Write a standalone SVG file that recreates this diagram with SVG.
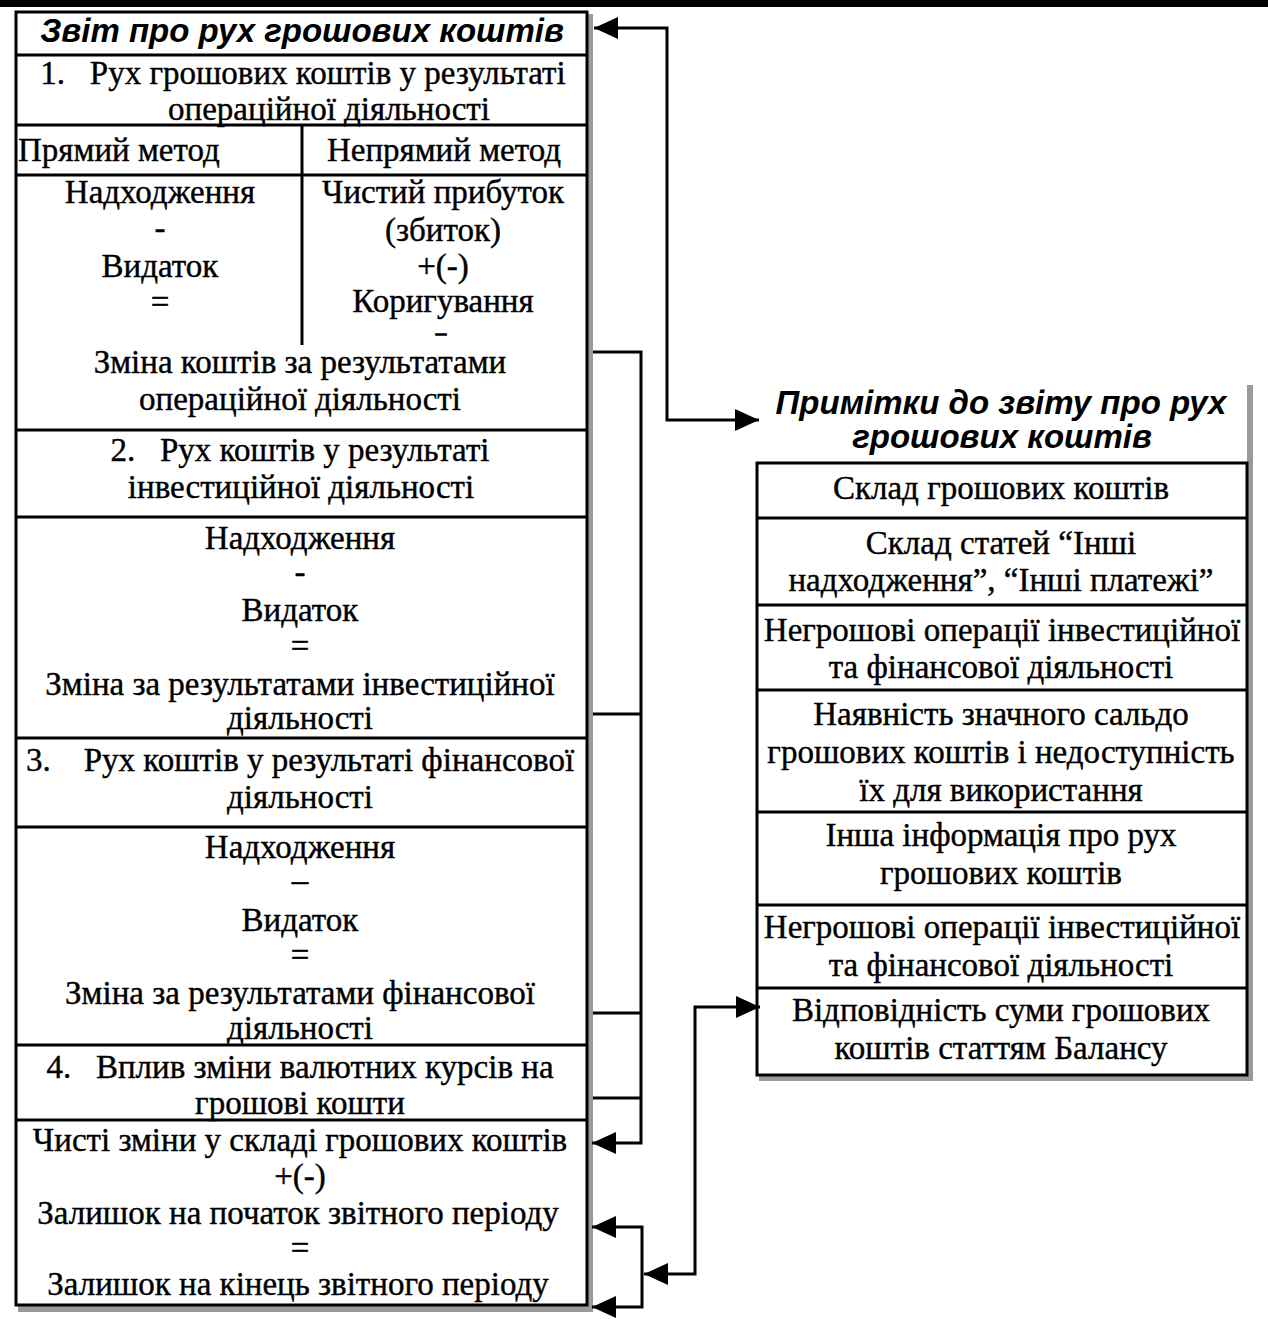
<svg xmlns="http://www.w3.org/2000/svg" width="1268" height="1331" viewBox="0 0 1268 1331">
<style>
.t{font-family:"Liberation Serif","Times New Roman",serif;font-size:33px;fill:#000;text-anchor:middle;white-space:pre;stroke:#000;stroke-width:0.4}
.l{text-anchor:start}
.d{font-size:20px;stroke-width:1.5}
.h{font-family:"Liberation Sans",Arial,sans-serif;font-size:33px;font-weight:bold;font-style:italic;fill:#000;text-anchor:middle}
.b{fill:none;stroke:#000;stroke-width:3}
.sh{fill:#9a9a9a}
.c{fill:none;stroke:#000;stroke-width:3}
</style>
<defs>
<marker id="ah" viewBox="0 0 24 22" refX="24" refY="11" markerWidth="24" markerHeight="22" markerUnits="userSpaceOnUse" orient="auto-start-reverse">
<path d="M0,0 L24,11 L0,22 Z" fill="#000"/>
</marker>
</defs>
<rect x="0" y="0" width="1268" height="7" fill="#000"/>

<g id="statement">
<rect class="sh" x="587" y="14" width="6" height="1298"/>
<rect class="sh" x="18" y="1305" width="575" height="7"/>
<rect class="b" x="16" y="12" width="571" height="1293"/>
<line class="b" x1="16" y1="55" x2="587" y2="55"/>
<line class="b" x1="16" y1="125" x2="587" y2="125"/>
<line class="b" x1="16" y1="175" x2="587" y2="175"/>
<line class="b" x1="302" y1="125" x2="302" y2="345"/>
<line class="b" x1="16" y1="430" x2="587" y2="430"/>
<line class="b" x1="16" y1="517" x2="587" y2="517"/>
<line class="b" x1="16" y1="738" x2="587" y2="738"/>
<line class="b" x1="16" y1="827" x2="587" y2="827"/>
<line class="b" x1="16" y1="1045" x2="587" y2="1045"/>
<line class="b" x1="16" y1="1120" x2="587" y2="1120"/>
<text class="h" x="302" y="42">Звіт про рух грошових коштів</text>
<text class="t" x="303" y="84">1.   Рух грошових коштів у результаті</text>
<text class="t" x="329" y="120">операційної діяльності</text>
<text class="t l" x="18" y="161">Прямий метод</text>
<text class="t" x="444" y="161">Непрямий метод</text>
<text class="t" x="160" y="203">Надходження</text>
<text class="t" x="160" y="239">-</text>
<text class="t" x="160" y="277">Видаток</text>
<text class="t" x="160" y="313">=</text>
<text class="t" x="443" y="203">Чистий прибуток</text>
<text class="t" x="443" y="241">(збиток)</text>
<text class="t" x="443" y="277">+(-)</text>
<text class="t" x="443" y="312">Коригування</text>
<text class="t d" x="441" y="340">–</text>
<text class="t" x="300" y="373">Зміна коштів за результатами</text>
<text class="t" x="300" y="410">операційної діяльності</text>
<text class="t" x="300" y="461">2.   Рух коштів у результаті</text>
<text class="t" x="301" y="498">інвестиційної діяльності</text>
<text class="t" x="300" y="549">Надходження</text>
<text class="t" x="300" y="583">-</text>
<text class="t" x="300" y="621">Видаток</text>
<text class="t" x="300" y="657">=</text>
<text class="t" x="300" y="695">Зміна за результатами інвестиційної</text>
<text class="t" x="300" y="729">діяльності</text>
<text class="t" x="300" y="771">3.    Рух коштів у результаті фінансової</text>
<text class="t" x="300" y="808">діяльності</text>
<text class="t" x="300" y="858">Надходження</text>
<text class="t" x="300" y="891">–</text>
<text class="t" x="300" y="931">Видаток</text>
<text class="t" x="300" y="966">=</text>
<text class="t" x="300" y="1004">Зміна за результатами фінансової</text>
<text class="t" x="300" y="1039">діяльності</text>
<text class="t" x="300" y="1078">4.   Вплив зміни валютних курсів на</text>
<text class="t" x="300" y="1114">грошові кошти</text>
<text class="t" x="300" y="1151">Чисті зміни у складі грошових коштів</text>
<text class="t" x="300" y="1187">+(-)</text>
<text class="t" x="298" y="1224">Залишок на початок звітного періоду</text>
<text class="t" x="300" y="1259">=</text>
<text class="t" x="298" y="1295">Залишок на кінець звітного періоду</text>
</g>

<g id="notes">
<rect class="sh" x="1247" y="385" width="6" height="696"/>
<rect class="sh" x="759" y="1075" width="494" height="6"/>
<rect class="b" x="757" y="463" width="490" height="612"/>
<line class="b" x1="757" y1="518" x2="1247" y2="518"/>
<line class="b" x1="757" y1="605" x2="1247" y2="605"/>
<line class="b" x1="757" y1="690" x2="1247" y2="690"/>
<line class="b" x1="757" y1="812" x2="1247" y2="812"/>
<line class="b" x1="757" y1="905" x2="1247" y2="905"/>
<line class="b" x1="757" y1="988" x2="1247" y2="988"/>
<text class="h" x="1001" y="414">Примітки до звіту про рух</text>
<text class="h" x="1002" y="448">грошових коштів</text>
<text class="t" x="1001" y="499">Склад грошових коштів</text>
<text class="t" x="1001" y="554">Склад статей “Інші</text>
<text class="t" x="1001" y="591">надходження”, “Інші платежі”</text>
<text class="t" x="1002" y="641">Негрошові операції інвестиційної</text>
<text class="t" x="1001" y="678">та фінансової діяльності</text>
<text class="t" x="1001" y="725">Наявність значного сальдо</text>
<text class="t" x="1001" y="763">грошових коштів і недоступність</text>
<text class="t" x="1001" y="801">їх для використання</text>
<text class="t" x="1001" y="846">Інша інформація про рух</text>
<text class="t" x="1001" y="884">грошових коштів</text>
<text class="t" x="1002" y="938">Негрошові операції інвестиційної</text>
<text class="t" x="1001" y="976">та фінансової діяльності</text>
<text class="t" x="1001" y="1021">Відповідність суми грошових</text>
<text class="t" x="1001" y="1059">коштів статтям Балансу</text>
</g>

<g id="connectors">
<path class="c" d="M594,28 H667 V420 H759" marker-start="url(#ah)" marker-end="url(#ah)"/>
<path class="c" d="M593,352 H641 V1143 H592" marker-end="url(#ah)"/>
<path class="c" d="M593,714 H641"/>
<path class="c" d="M593,1013 H641"/>
<path class="c" d="M593,1098 H641"/>
<path class="c" d="M592,1227 H642 V1307 H592" marker-start="url(#ah)" marker-end="url(#ah)"/>
<path class="c" d="M760,1007 H695 V1274 H644" marker-start="url(#ah)" marker-end="url(#ah)"/>
</g>
</svg>
